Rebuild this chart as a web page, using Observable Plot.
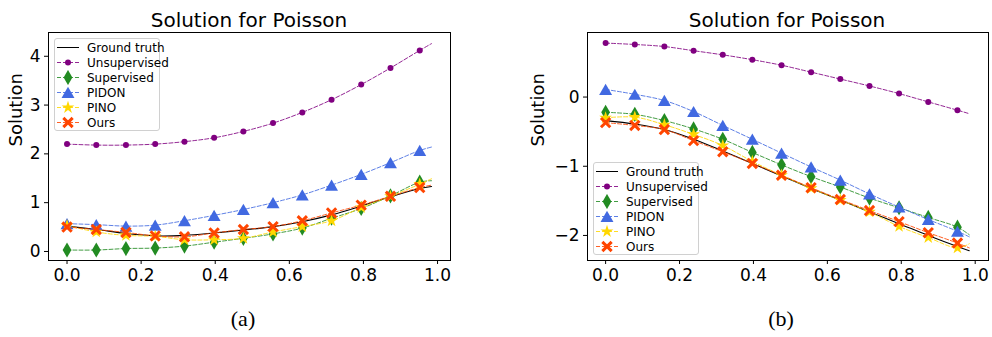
<!DOCTYPE html>
<html><head><meta charset="utf-8">
<script src="https://cdn.jsdelivr.net/npm/d3@7"></script>
<script src="https://cdn.jsdelivr.net/npm/@observablehq/plot@0.6"></script>
<style>
body{margin:0;background:#fff;}
#wrap{position:relative;width:992px;height:337px;overflow:hidden;font-family:"DejaVu Sans",sans-serif;color:#000;}
.panel{position:absolute;top:0;}
.title{position:absolute;font-size:20px;line-height:20px;white-space:nowrap;transform:translateX(-50%);}
.cap{position:absolute;font-family:"Liberation Serif","Times New Roman",serif;font-size:22px;line-height:22px;white-space:nowrap;transform:translateX(-50%);}
.legend{position:absolute;box-sizing:border-box;width:106px;height:93px;padding-top:1px;border:1px solid #d0d0d0;border-radius:3px;background:rgba(255,255,255,0.85);font-size:12px;}
.row{height:15px;display:flex;align-items:center;white-space:nowrap;}
.row svg{flex:none;}
</style>
</head><body>
<div id="wrap"></div>
<script>
// ---- data ----
const seriesNames = ["Ground truth", "Unsupervised", "Supervised", "PIDON", "PINO", "Ours"];
// x positions of markers (13) plus the end of the lines
const xValues = [0, 0.079, 0.159, 0.238, 0.317, 0.397, 0.476, 0.556, 0.635, 0.714, 0.794, 0.873, 0.952, 0.984];
const markerCount = 13;
const xTicks = [0, 0.2, 0.4, 0.6, 0.8, 1.0];

// panel (a)
const aGroundTruth = [0.52, 0.45, 0.37, 0.32, 0.33, 0.38, 0.44, 0.51, 0.61, 0.75, 0.93, 1.12, 1.29, 1.33];
const aUnsupervised = [2.20, 2.18, 2.18, 2.20, 2.25, 2.33, 2.46, 2.63, 2.85, 3.11, 3.42, 3.76, 4.12, 4.26];
const aSupervised = [0.03, 0.03, 0.06, 0.07, 0.11, 0.19, 0.27, 0.36, 0.48, 0.68, 0.88, 1.14, 1.42, 1.45];
const aPIDON = [0.57, 0.55, 0.52, 0.54, 0.63, 0.74, 0.86, 1.00, 1.16, 1.36, 1.58, 1.82, 2.07, 2.14];
const aPINO = [0.53, 0.40, 0.33, 0.31, 0.24, 0.24, 0.27, 0.40, 0.51, 0.63, 0.90, 1.13, 1.38, 1.49];
const aOurs = [0.50, 0.45, 0.39, 0.32, 0.30, 0.38, 0.45, 0.51, 0.63, 0.79, 0.95, 1.13, 1.31, 1.36];
const aYTicks = [0, 1, 2, 3, 4];

// panel (b)
const bGroundTruth = [-0.34, -0.39, -0.47, -0.61, -0.78, -0.96, -1.14, -1.32, -1.49, -1.66, -1.83, -2.00, -2.16, -2.22];
const bUnsupervised = [0.78, 0.76, 0.73, 0.67, 0.61, 0.54, 0.46, 0.36, 0.26, 0.16, 0.05, -0.07, -0.19, -0.24];
const bSupervised = [-0.22, -0.25, -0.34, -0.46, -0.61, -0.80, -0.98, -1.15, -1.30, -1.46, -1.60, -1.74, -1.88, -1.99];
const bPIDON = [0.11, 0.04, -0.05, -0.21, -0.41, -0.61, -0.81, -1.01, -1.20, -1.40, -1.59, -1.77, -1.94, -2.02];
const bPINO = [-0.30, -0.29, -0.40, -0.54, -0.70, -0.93, -1.13, -1.32, -1.49, -1.66, -1.87, -2.03, -2.18, -2.12];
const bOurs = [-0.37, -0.41, -0.47, -0.63, -0.79, -0.96, -1.13, -1.31, -1.48, -1.64, -1.80, -1.96, -2.11, -2.18];
const bYTicks = [-2, -1, 0];

const titleText = "Solution for Poisson";
const yLabelText = "Solution";
const captions = ["(a)", "(b)"];

// ---- styles ----
const styles = {
  "Ground truth": {color: "#000000", dash: null, symbol: null},
  "Unsupervised": {color: "#800080", dash: "4,2", symbol: "circle", r: 3, d3sym: d3.symbolCircle},
  "Supervised": {color: "#228B22", dash: "4,2", symbol: "diamond", r: 4.6, d3sym: d3.symbolDiamond},
  "PIDON": {color: "#4169E1", dash: "4,2", symbol: "triangle", r: 4.8, dy: 1.8, d3sym: d3.symbolTriangle},
  "PINO": {color: "#FFD700", dash: "4,2", symbol: "star", r: 4, d3sym: d3.symbolStar},
  "Ours": {color: "#FF4500", dash: "4,2", symbol: "times", r: 4.3, stroke: true, d3sym: d3.symbolTimes}
};

function table(arrays) {
  const rows = [];
  seriesNames.forEach((s, k) => arrays[k].forEach((v, i) => rows.push({series: s, i, x: xValues[i], y: v})));
  return rows;
}
const fmtY = d => d < 0 ? "\u2212" + Math.abs(d) : String(d);

function panel({arrays, yDomain, yTicks, xDomain, marginLeft, marginRight, labelDx}) {
  const rows = table(arrays);
  const marks = [
    Plot.frame({stroke: "#000", strokeWidth: 1}),
    Plot.axisX({ticks: xTicks, tickSize: 4, tickPadding: 4, tickFormat: d3.format(".1f"), label: null, fontSize: 17}),
    Plot.axisY({ticks: yTicks, tickSize: 4, tickPadding: 4, tickFormat: fmtY, label: null, fontSize: 17}),
    Plot.text([yLabelText], {text: d => d, frameAnchor: "left", dx: labelDx, rotate: -90, fontSize: 18})
  ];
  for (const s of seriesNames) {
    const st = styles[s];
    const data = rows.filter(d => d.series === s);
    marks.push(Plot.line(data, {x: "x", y: "y", stroke: st.color, strokeWidth: st.dash ? 1 : 1.1,
      strokeOpacity: st.dash ? 0.85 : 1, strokeDasharray: st.dash, curve: "catmull-rom"}));
    if (st.symbol) {
      const md = data.filter(d => d.i < markerCount);
      if (st.stroke) {
        marks.push(Plot.dot(md, {x: "x", y: "y", symbol: st.symbol, r: st.r, stroke: st.color, strokeWidth: 3}));
      } else {
        marks.push(Plot.dot(md, {x: "x", y: "y", symbol: st.symbol, r: st.r, fill: st.color, stroke: "none", dy: st.dy || 0}));
      }
    }
  }
  return Plot.plot({
    width: 496, height: 300,
    marginLeft, marginRight, marginTop: 32, marginBottom: 40,
    x: {domain: xDomain},
    y: {domain: yDomain},
    style: {fontFamily: "DejaVu Sans", fontSize: "17px", color: "#000", background: "transparent", overflow: "visible"},
    marks
  });
}

function legend(left, top) {
  const box = document.createElement("div");
  box.className = "legend";
  box.style.left = left + "px";
  box.style.top = top + "px";
  for (const s of seriesNames) {
    const st = styles[s];
    const row = document.createElement("div");
    row.className = "row";
    const svg = d3.create("svg").attr("width", 31).attr("height", 15);
    svg.append("line").attr("x1", 2).attr("x2", 24).attr("y1", 7.5).attr("y2", 7.5)
      .attr("stroke", st.color).attr("stroke-width", 1).attr("stroke-opacity", st.dash ? 0.85 : 1)
      .attr("stroke-dasharray", st.dash);
    if (st.d3sym) {
      const p = svg.append("path")
        .attr("d", d3.symbol(st.d3sym, Math.PI * st.r * st.r)())
        .attr("transform", `translate(13,${7.5 + (st.dy || 0)})`);
      if (st.stroke) p.attr("fill", "none").attr("stroke", st.color).attr("stroke-width", 3);
      else p.attr("fill", st.color);
    }
    row.appendChild(svg.node());
    const t = document.createElement("span");
    t.textContent = s;
    t.style.marginLeft = "1px";
    row.appendChild(t);
    box.appendChild(row);
  }
  return box;
}

const wrap = document.getElementById("wrap");
function addDiv(cls, text, cx, top) {
  const d = document.createElement("div");
  d.className = cls; d.textContent = text;
  d.style.left = cx + "px"; d.style.top = top + "px";
  wrap.appendChild(d);
}

const pa = panel({arrays: [aGroundTruth, aUnsupervised, aSupervised, aPIDON, aPINO, aOurs],
  yDomain: [-0.185, 4.487], yTicks: aYTicks, xDomain: [-0.05, 1.035], marginLeft: 48, marginRight: 46, labelDx: -32});
const pb = panel({arrays: [bGroundTruth, bUnsupervised, bSupervised, bPIDON, bPINO, bOurs],
  yDomain: [-2.362, 0.933], yTicks: bYTicks, xDomain: [-0.049, 1.036], marginLeft: 91, marginRight: 4, labelDx: -49});
const da = document.createElement("div"); da.className = "panel"; da.style.left = "0px"; da.appendChild(pa);
const db = document.createElement("div"); db.className = "panel"; db.style.left = "496px"; db.appendChild(pb);
wrap.appendChild(da); wrap.appendChild(db);

addDiv("title", titleText, 249, 10);
addDiv("title", titleText, 787, 10);
addDiv("cap", captions[0], 243, 308);
addDiv("cap", captions[1], 781, 308);
wrap.appendChild(legend(54, 38));
wrap.appendChild(legend(593, 162));
</script>
</body></html>
